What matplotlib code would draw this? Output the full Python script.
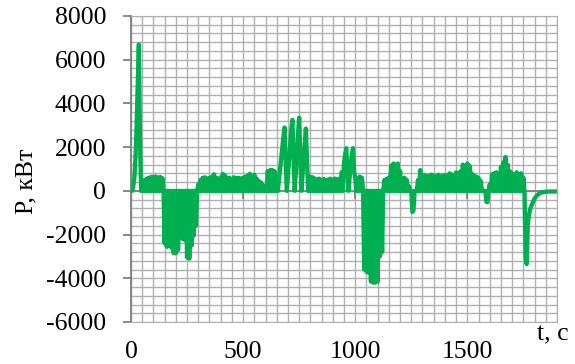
import numpy as np
import matplotlib
matplotlib.use('Agg')
import matplotlib.pyplot as plt

plt.rcParams['font.family'] = ['Liberation Serif', 'DejaVu Serif']
plt.rcParams['axes.unicode_minus'] = False

## power readings every 5 s, one row = 100 s
t = np.arange(0, 1895, 5)
p_0000 = [0, 0, 200, 600, 1500, 3000, 4800, 6700, 2500, 0, 520, 0, 480, 0, 560, 0, 600, 0, 640, 0]
p_0100 = [620, 0, 660, 0, 600, 0, 640, 0, 580, 0, -2400, 0, -2560, 0, -2500, 0, -2600, 0, -2850, 0]
p_0200 = [-2860, 0, -2700, 0, -2000, 0, -2200, 0, -2250, 0, -3050, 0, -3100, 0, -2500, 0, -2050, 0, -1600, 0]
p_0300 = [300, 0, 500, 0, 600, 0, 620, 0, 560, 0, 600, 0, 640, 0, 760, 0, 600, 0, 560, 0]
p_0400 = [620, 0, 780, 0, 700, 0, 560, 0, 600, 0, 540, 0, 620, 0, 580, 0, 600, 0, 560, 0]
p_0500 = [600, 0, 650, 0, 700, 0, 780, 0, 620, 0, 740, 0, 560, 0, 450, 0, 380, 0, 250, 0]
p_0600 = [0, 0, 900, 0, 950, 0, 950, 0, 900, 0, 0, 0, 500, 1000, 1500, 2000, 2500, 2900, 1200, 0]
p_0700 = [700, 1400, 2100, 2800, 3250, 1500, 0, 800, 1700, 2600, 3350, 1600, 0, 700, 1500, 2200, 2850, 1400, 0, 0]
p_0800 = [650, 0, 620, 0, 560, 0, 520, 0, 560, 0, 500, 0, 540, 0, 480, 0, 520, 0, 560, 0]
p_0900 = [500, 0, 560, 0, 520, 0, 560, 0, 860, 0, 1300, 1650, 1950, 900, 0, 600, 1200, 1650, 1950, 900]
p_1000 = [600, 0, 550, 0, 650, 0, 600, 0, -3600, 0, -3700, 0, -3750, 0, -4150, 0, -4200, 0, -4200, 0]
p_1100 = [-4150, 0, -3000, 0, -2800, 0, 500, 0, 550, 0, 600, 0, 1150, 0, 1250, 0, 1200, 0, 1250, 0]
p_1200 = [900, 0, 550, 0, 600, 0, 500, 0, 200, 0, 0, -970, -900, 0, 0, 0, 500, 0, 950, 0]
p_1300 = [700, 0, 720, 0, 650, 0, 700, 0, 740, 0, 700, 0, 680, 0, 740, 0, 650, 0, 700, 0]
p_1400 = [720, 0, 680, 0, 800, 0, 760, 0, 700, 0, 850, 0, 780, 0, 900, 0, 1200, 0, 1000, 0]
p_1500 = [1250, 0, 1150, 0, 800, 0, 700, 0, 650, 0, 600, 0, 450, 0, 0, 0, 0, -500, -520, 0]
p_1600 = [300, 0, 750, 0, 800, 0, 850, 0, 700, 0, 1100, 0, 1300, 0, 1550, 0, 1200, 0, 900, 0]
p_1700 = [800, 0, 700, 0, 850, 0, 750, 0, 800, 0, 600, 0, -3000, -3350, -1500, -1100, -850, -700, -580, -450]
p_1800 = [-350, -280, -220, -170, -130, -100, -80, -70, -60, -50, -40, -40, -30, -30, -30, -30, -30, -30, -30]

p = np.concatenate([p_0000, p_0100, p_0200, p_0300, p_0400, p_0500, p_0600,
                    p_0700, p_0800, p_0900, p_1000, p_1100, p_1200, p_1300,
                    p_1400, p_1500, p_1600, p_1700, p_1800])

x_ticks = [0, 500, 1000, 1500]
y_ticks = [-6000, -4000, -2000, 0, 2000, 4000, 6000, 8000]
x_grid = np.arange(0, 1901, 50)
y_grid = np.arange(-6000, 8001, 400)

grid_col = '#b0b0b0'
axis_col = '#7f7f7f'
fs = 18.5

fig = plt.figure(figsize=(5.75, 3.64), dpi=100)
ax = fig.add_axes([131/575, 1 - 322/364, 426/575, 306/364])

ax.set_xlim(0, 1900)
ax.set_ylim(-6000, 8000)
ax.set_xticks(x_ticks)
ax.set_yticks(y_ticks)

## minor grid every 50 s and 400 kW
ax.vlines(x_grid, -6000, 8000, colors=grid_col, lw=1.0, zorder=1)
ax.hlines(y_grid, 0, 1900, colors=grid_col, lw=1.0, zorder=1)

for s in ['top', 'right', 'bottom']:
    ax.spines[s].set_color(grid_col)
ax.spines['left'].set_color(axis_col)
ax.spines['left'].set_linewidth(1.3)

ax.tick_params(axis='x', which='major', length=0, labelsize=fs, pad=14)
ax.tick_params(axis='y', which='major', direction='out', length=6, width=1.3,
               color=axis_col, labelsize=fs, pad=12)

## x axis line crosses at zero (Excel style) with small ticks below it
ax.axhline(0, color=axis_col, lw=1.3, zorder=2)
ax.plot(x_ticks[1:], [0] * 3, ls='none', marker=3, ms=6, mew=1.3,
        color=axis_col, zorder=2)

ax.plot(t, p, color='#00b050', lw=3.1, zorder=4)

ax.set_ylabel('P, кВт', fontsize=fs)
ax.yaxis.set_label_coords(-0.22, 0.46)
ax.text(0.99, -0.04, 't, c', transform=ax.transAxes, fontsize=fs,
        ha='center', va='center')

plt.savefig('out.png', dpi=100)
